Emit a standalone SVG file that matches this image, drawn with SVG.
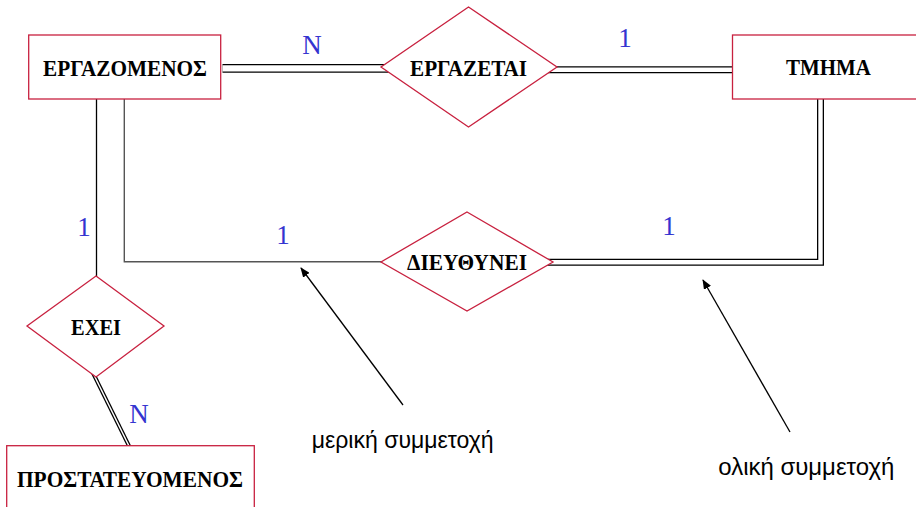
<svg xmlns="http://www.w3.org/2000/svg" width="916" height="507" viewBox="0 0 916 507">
<defs>
<style>
.ent{fill:#fff;stroke:#c8213f;stroke-width:1.3}
.rel{fill:#fff;stroke:#c8213f;stroke-width:1.3}
.lbl{font-family:"Liberation Serif","Times New Roman",serif;font-weight:bold;font-size:24px;fill:#000;text-anchor:middle}
.card{font-family:"Liberation Serif","Times New Roman",serif;font-size:27px;fill:#3434d0;text-anchor:middle}
.note{font-family:"Liberation Sans",Arial,sans-serif;font-size:23px;fill:#000}
.ln{fill:none;stroke:#000;stroke-width:1.3}
.dblo{fill:none;stroke:#000;stroke-linejoin:miter}
.dbli{fill:none;stroke:#fff;stroke-linejoin:miter}
</style>
<marker id="ah" markerWidth="10" markerHeight="8" refX="9" refY="4" orient="auto" markerUnits="userSpaceOnUse">
<path d="M0,0 L10,4 L0,8 Z" fill="#000"/>
</marker>
</defs>
<rect width="916" height="507" fill="#fff"/>
<g id="connectors">
<path class="dblo" d="M222.5 68.3 H392" stroke-width="8.8"/>
<path class="dbli" d="M222.5 68.3 H392" stroke-width="6.2"/>
<path class="dblo" d="M545 69.8 H734" stroke-width="7"/>
<path class="dbli" d="M545 69.8 H734" stroke-width="4.4"/>
<path class="dblo" d="M820.5 98 V262.2 H540" stroke-width="7"/>
<path class="dbli" d="M820.5 98 V262.2 H540" stroke-width="4.4"/>
<path class="ln" d="M96.5 99 V277"/>
<path d="M124.3 99 V261.7 H383" fill="none" stroke="#555" stroke-width="1.4"/>
<line class="ln" x1="91.5" y1="373" x2="127.5" y2="446"/>
<line class="ln" x1="94.5" y1="373" x2="130.5" y2="446"/>
<line class="ln" x1="403" y1="405" x2="301" y2="268" marker-end="url(#ah)"/>
<line class="ln" x1="790" y1="432" x2="703" y2="280" marker-end="url(#ah)"/>
</g>
<g id="n-ergazomenos">
<rect class="ent" x="28.7" y="35" width="192" height="64"/>
<text class="lbl" x="125" y="76" textLength="164" lengthAdjust="spacingAndGlyphs">ΕΡΓΑΖΟΜΕΝΟΣ</text>
</g>
<g id="n-ergazetai">
<polygon class="rel" points="468.5,7 557,67 468.5,127 381,67"/>
<text class="lbl" x="468.5" y="75.5" textLength="117" lengthAdjust="spacingAndGlyphs">ΕΡΓΑΖΕΤΑΙ</text>
</g>
<g id="n-tmhma">
<rect class="ent" x="732.5" y="35" width="192" height="64"/>
<text class="lbl" x="828.5" y="75" textLength="85" lengthAdjust="spacingAndGlyphs">ΤΜΗΜΑ</text>
</g>
<g id="n-dieythynei">
<polygon class="rel" points="467,212 553,262 467,311 381,262"/>
<text class="lbl" x="467" y="270" textLength="120" lengthAdjust="spacingAndGlyphs">ΔΙΕΥΘΥΝΕΙ</text>
</g>
<g id="n-exei">
<polygon class="rel" points="96,276 164,326 96,377 27,326"/>
<text class="lbl" x="96" y="335" textLength="50" lengthAdjust="spacingAndGlyphs">ΕΧΕΙ</text>
</g>
<g id="n-prostateyomenos">
<rect class="ent" x="6.7" y="445.7" width="247.6" height="70"/>
<text class="lbl" x="130" y="486.7" textLength="226" lengthAdjust="spacingAndGlyphs">ΠΡΟΣΤΑΤΕΥΟΜΕΝΟΣ</text>
</g>
<g id="labels">
<text class="card" x="312" y="54">N</text>
<text class="card" x="625" y="47">1</text>
<text class="card" x="84" y="236">1</text>
<text class="card" x="283" y="244">1</text>
<text class="card" x="669" y="235">1</text>
<text class="card" x="139" y="423">N</text>
<text class="note" x="311.7" y="448.3" textLength="182" lengthAdjust="spacingAndGlyphs">μερική συμμετοχή</text>
<text class="note" x="718.3" y="475" textLength="176" lengthAdjust="spacingAndGlyphs">ολική συμμετοχή</text>
</g>
</svg>
